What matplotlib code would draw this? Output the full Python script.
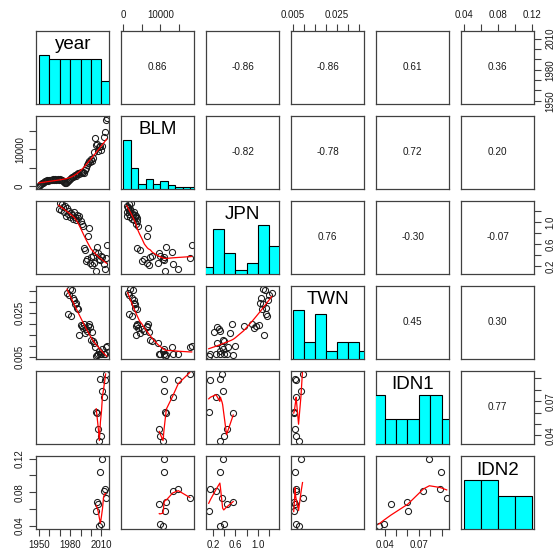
import numpy as np
import matplotlib
matplotlib.use("Agg")
import matplotlib.pyplot as plt

plt.rcParams['font.family'] = ['Liberation Sans', 'DejaVu Sans']

# ---- data -------------------------------------------------------------
year = list(range(1950, 2016))

blm = [150, 380, 620, 850, 1050, 1250, 1400, 1550, 1650, 1500,
       1750, 1600, 1850, 1700, 1900, 1800, 1950, 1650, 1900, 1750,
       1980, 1850, 1600, 1350, 1100, 950, 1050, 1200, 1450, 1700,
       1950, 2300, 2600, 2450, 2800, 3100, 2900, 3300, 3600, 3400,
       3800, 3500, 3900, 3700, 4400, 5000, 5700, 6300, 6800, 6500,
       7300, 7000, 7800, 9300, 13000, 11300, 11600, 9700, 10700, 11000,
       9850, 11000, 13300, 14800, 17900, 18400]

jpn_first_year = 1969
jpn = [1.24, 1.34, 1.22, 1.33, 1.27, 1.18, 1.30, 1.12, 1.25, 1.15,
       1.21, 1.09, 1.17, 1.13, 1.06, 1.19, 1.10, 1.04, 1.14, 1.07,
       1.12, 1.02, 0.97, 0.93, 0.53, 0.50, 0.30, 0.33, 0.75, 0.90,
       0.27, 0.38, 0.22, 0.39, 0.26, 0.46, 0.12, 0.56, 0.44, 0.33,
       0.32, 0.39, 0.37, 0.25, 0.15, 0.36, 0.59]

twn_first_year = 1977
twn = [0.0340, 0.0245, 0.0332, 0.0362, 0.0238, 0.0355, 0.0318, 0.0310,
       0.0290, 0.0296, 0.0272, 0.0268, 0.0148, 0.0196, 0.0189, 0.0182,
       0.0199, 0.0158, 0.0176, 0.0168, 0.0192, 0.0198, 0.0185, 0.0128,
       0.0163, 0.0121, 0.0112, 0.0095, 0.0053, 0.0056, 0.0060, 0.0075,
       0.0060, 0.0062, 0.0086, 0.0064, 0.0062, 0.0093, 0.0099]

idn_first_year = 2005
idn1 = [0.0605, 0.0595, 0.0456, 0.0349, 0.0891,
        0.0392, 0.0792, 0.0740, 0.0885, 0.0943]
idn2 = [0.0575, 0.0685, 0.0665, 0.0400, 0.1045,
        0.0425, 0.1200, 0.0812, 0.0840, 0.0730]

names = ['year', 'BLM', 'JPN', 'TWN', 'IDN1', 'IDN2']

# pairwise correlations printed in the upper panels, (row, col) -> text
cor_text = {
    (0, 1): '0.86', (0, 2): '-0.86', (0, 3): '-0.86', (0, 4): '0.61', (0, 5): '0.36',
    (1, 2): '-0.82', (1, 3): '-0.78', (1, 4): '0.72', (1, 5): '0.20',
    (2, 3): '0.76', (2, 4): '-0.30', (2, 5): '-0.07',
    (3, 4): '0.45', (3, 5): '0.30',
    (4, 5): '0.77',
}

# axis ticks and which of them carry a label
tick_pos = {
    'year': [1950, 1960, 1970, 1980, 1990, 2000, 2010],
    'BLM': [0, 5000, 10000, 15000],
    'JPN': [0.2, 0.4, 0.6, 0.8, 1.0, 1.2],
    'TWN': [0.005, 0.010, 0.015, 0.020, 0.025, 0.030, 0.035],
    'IDN1': [0.04, 0.05, 0.06, 0.07, 0.08, 0.09],
    'IDN2': [0.04, 0.06, 0.08, 0.10, 0.12],
}
tick_lab = {
    'year': ['1950', '', '', '1980', '', '', '2010'],
    'BLM': ['0', '', '10000', ''],
    'JPN': ['0.2', '', '0.6', '', '1.0', ''],
    'TWN': ['0.005', '', '', '', '0.025', '', ''],
    'IDN1': ['0.04', '', '', '0.07', '', ''],
    'IDN2': ['0.04', '', '0.08', '', '0.12'],
}


def padded(first_year, values):
    out = np.full(len(year), np.nan)
    k = first_year - year[0]
    out[k:k + len(values)] = values
    return out


cols = {
    'year': np.array(year, dtype=float),
    'BLM': np.array(blm, dtype=float),
    'JPN': padded(jpn_first_year, jpn),
    'TWN': padded(twn_first_year, twn),
    'IDN1': padded(idn_first_year, idn1),
    'IDN2': padded(idn_first_year, idn2),
}


# ---- helpers ------------------------------------------------------------
def pretty(lo, hi, n):
    cell = (hi - lo) / n
    base = 10 ** np.floor(np.log10(cell))
    unit = base
    if 2 * base - cell < 1.5 * (cell - unit):
        unit = 2 * base
    if 5 * base - cell < 2.75 * (cell - unit):
        unit = 5 * base
    if 10 * base - cell < 1.5 * (cell - unit):
        unit = 10 * base
    ns = np.floor(lo / unit + 1e-7)
    nu = np.ceil(hi / unit - 1e-7)
    return np.arange(ns, nu + 0.5) * unit


def hist_counts(x):
    n = len(x)
    k = int(np.ceil(np.log2(n) + 1))
    br = pretty(x.min(), x.max(), k)
    cnt = np.zeros(len(br) - 1)
    for v in x:
        j = np.searchsorted(br, v, side='left') - 1
        j = min(max(j, 0), len(cnt) - 1)
        cnt[j] += 1
    return br, cnt


def _lowest(x, y, xs, nleft, nright, rw, userw):
    n = len(x)
    rng = x[-1] - x[0]
    h = max(xs - x[nleft], x[nright] - xs)
    h9, h1 = 0.999 * h, 0.001 * h
    w = np.zeros(n)
    a = 0.0
    j = nleft
    while j < n:
        r = abs(x[j] - xs)
        if r <= h9:
            w[j] = 1.0 if r <= h1 else (1 - (r / h) ** 3) ** 3
            if userw:
                w[j] *= rw[j]
            a += w[j]
        elif x[j] > xs:
            break
        j += 1
    nrt = j - 1
    if a <= 0:
        return 0.0, False
    sl = slice(nleft, nrt + 1)
    w[sl] /= a
    if h > 0:
        a = np.sum(w[sl] * x[sl])
        b = xs - a
        c = np.sum(w[sl] * (x[sl] - a) ** 2)
        if np.sqrt(c) > 0.001 * rng:
            b /= c
            w[sl] *= b * (x[sl] - a) + 1
    return float(np.sum(w[sl] * y[sl])), True


def lowess(x, y, f=2 / 3, iters=3):
    o = np.argsort(x, kind='mergesort')
    x, y = x[o], y[o]
    n = len(x)
    ns = max(min(int(f * n + 1e-7), n), 2)
    delta = 0.01 * (x[-1] - x[0])
    ys = np.zeros(n)
    rw = np.ones(n)
    for it in range(iters + 1):
        nleft, nright = 0, ns - 1
        last, i = -1, 0
        while True:
            if nright < n - 1:
                if x[i] - x[nleft] > x[nright + 1] - x[i]:
                    nleft += 1
                    nright += 1
                    continue
            val, ok = _lowest(x, y, x[i], nleft, nright, rw, it > 0)
            ys[i] = val if ok else y[i]
            if last < i - 1:
                den = x[i] - x[last]
                for j in range(last + 1, i):
                    al = (x[j] - x[last]) / den
                    ys[j] = al * ys[i] + (1 - al) * ys[last]
            last = i
            cut = x[last] + delta
            i = last + 1
            while i < n:
                if x[i] > cut:
                    break
                if x[i] == x[last]:
                    ys[i] = ys[last]
                    last = i
                i += 1
            i = max(last + 1, i - 1)
            if last >= n - 1:
                break
        res = y - ys
        if it >= iters:
            break
        sc = np.mean(np.abs(res))
        cmad = 6 * np.median(np.abs(res))
        if cmad < 1e-7 * sc:
            break
        r = np.abs(res)
        rw = np.where(r <= 0.001 * cmad, 1.0,
                      np.where(r <= 0.999 * cmad, (1 - (r / cmad) ** 2) ** 2, 0.0))
    return x, ys


def limits(v):
    v = v[np.isfinite(v)]
    lo, hi = v.min(), v.max()
    d = 0.04 * (hi - lo)
    return lo - d, hi + d


# ---- figure -----------------------------------------------------------
W, H = 555, 554
fig = plt.figure(figsize=(W / 100, H / 100), dpi=100)
fig.patch.set_facecolor('white')

x0, y0, step_x, step_y, pw, ph = 36.0, 30.7, 85.0, 85.05, 73.4, 72.8
nvar = len(names)
box_col = '#404040'
tick_kw = dict(length=5, width=0.8, color=box_col, labelsize=7,
               labelcolor='#1a1a1a', pad=3)

for r in range(nvar):
    for c in range(nvar):
        left = x0 + step_x * c
        top = y0 + step_y * r
        ax = fig.add_axes([left / W, 1 - (top + ph) / H, pw / W, ph / H])
        vx = cols[names[c]]
        vy = cols[names[r]]
        ax.set_xlim(*limits(vx))
        ax.set_ylim(*limits(vy))
        for s in ax.spines.values():
            s.set_color(box_col)
            s.set_linewidth(0.9)
        ax.set_xticks([])
        ax.set_yticks([])

        if r == c:
            # histogram drawn on its own 0..1.5 vertical scale
            hx = ax.twinx()
            hx.set_yticks([])
            for s in hx.spines.values():
                s.set_visible(False)
            v = vx[np.isfinite(vx)]
            br, cnt = hist_counts(v)
            hx.bar(br[:-1], cnt / cnt.max(), width=np.diff(br), align='edge',
                   color='#00FFFF', edgecolor='black', linewidth=0.8)
            hx.set_ylim(0, 1.5)
            hx.set_xlim(*limits(vx))
            hx.text(0.5, 0.745, names[c], transform=hx.transAxes,
                    ha='center', va='baseline', fontsize=13.5, color='black')
        elif r > c:
            ok = np.isfinite(vx) & np.isfinite(vy)
            ax.plot(vx[ok], vy[ok], linestyle='none', marker='o', markersize=4.4,
                    markerfacecolor='none', markeredgecolor='#1a1a1a',
                    markeredgewidth=0.75)
            sx, sy = lowess(vx[ok], vy[ok])
            ax.plot(sx, sy, color='#ff0000', linewidth=0.9)
        else:
            ax.text(0.5, 0.5, cor_text[(r, c)], transform=ax.transAxes,
                    ha='center', va='center', fontsize=7.2, color='#1a1a1a')

        # outer axes alternate sides, as in a scatterplot matrix
        if r == 0 and c % 2 == 1:
            ax.set_xticks(tick_pos[names[c]])
            ax.set_xticklabels(tick_lab[names[c]])
            ax.xaxis.set_ticks_position('top')
            ax.tick_params(axis='x', top=True, labeltop=True, bottom=False,
                           labelbottom=False, **tick_kw)
        if r == nvar - 1 and c % 2 == 0:
            ax.set_xticks(tick_pos[names[c]])
            ax.set_xticklabels(tick_lab[names[c]])
            ax.tick_params(axis='x', bottom=True, labelbottom=True, **tick_kw)
        if c == 0 and r % 2 == 1:
            ax.set_yticks(tick_pos[names[r]])
            ax.set_yticklabels(tick_lab[names[r]], rotation=90, va='center')
            ax.tick_params(axis='y', left=True, labelleft=True, **tick_kw)
        if c == nvar - 1 and r % 2 == 0:
            ax.set_yticks(tick_pos[names[r]])
            ax.set_yticklabels(tick_lab[names[r]], rotation=90, va='center')
            ax.yaxis.set_ticks_position('right')
            ax.tick_params(axis='y', right=True, labelright=True, left=False,
                           labelleft=False, **tick_kw)
        ax.set_xlim(*limits(vx))
        ax.set_ylim(*limits(vy))

fig.savefig('out.png', dpi=100, facecolor='white')
